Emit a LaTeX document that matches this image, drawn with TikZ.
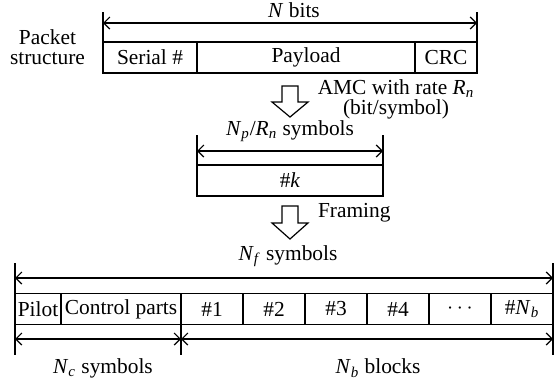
\documentclass[tikz,border=0pt]{standalone}
\usepackage{fontspec}
\setmainfont{Liberation Serif}
\usetikzlibrary{positioning,arrows.meta}

\newcommand{\vsym}[2]{\textit{#1}\textsubscript{\textit{#2}}}

\tikzset{
    cell/.style={draw, line width=0.6pt, inner sep=0pt, outer sep=0pt, minimum height=15.5pt},
    dim/.style={line width=0.6pt, {Straight Barb[length=3pt,width=6pt]}-{Straight Barb[length=3pt,width=6pt]}},
    tick/.style={line width=0.6pt},
    hollow/.style={draw, line width=0.6pt, fill=white}
}

\begin{document}
\begin{tikzpicture}[x=0.5pt, y=-0.5pt, font=\fontsize{10.7}{12.5}\selectfont]
    \useasboundingbox (0,0) rectangle (555,381);

    % Packet structure
    \node[align=center, font=\fontsize{10.7}{10}\selectfont] (pktlabel) at (47.5,47) {Packet\\structure};
    \node[cell, minimum width=47pt, anchor=west] (serial) at (103,57.5) {Serial \#};
    \node[cell, minimum width=109pt, right=0pt of serial] (payload) {Payload};
    \node[cell, minimum width=31pt, right=0pt of payload] (crc) {CRC};

    % N bits dimension
    \coordinate (ntopL) at (103,12);
    \coordinate (ntopR) at (477,12);
    \coordinate (ndimL) at (103,23);
    \coordinate (ndimR) at (477,23);
    \draw[tick] (ntopL) -- (serial.north west);
    \draw[tick] (ntopR) -- (crc.north east);
    \draw[dim] (ndimL) -- (ndimR);
    \node (nbits) at (294,10) {\textit{N} bits};

    % AMC step
    \draw[hollow] (282,86) -- (298,86) -- (298,102) -- (308,102) -- (290,117)
        -- (272,102) -- (282,102) -- cycle;
    \node[align=center, font=\fontsize{10.7}{8.8}\selectfont] (amc) at (396,99) {AMC with rate \vsym{R}{n}\\(bit/symbol)};

    % Modulated block
    \node[cell, minimum width=93pt] (pk) at (290,180.5) {\#\textit{k}};
    \coordinate (ptopL) at (197,135);
    \coordinate (ptopR) at (383,135);
    \coordinate (pdimL) at (197,151);
    \coordinate (pdimR) at (383,151);
    \draw[tick] (ptopL) -- (pk.north west);
    \draw[tick] (ptopR) -- (pk.north east);
    \draw[dim] (pdimL) -- (pdimR);
    \node (npsym) at (290,131) {\vsym{N}{p}/\vsym{R}{n} symbols};

    % Framing step
    \draw[hollow] (282,206) -- (298,206) -- (298,223) -- (308,223) -- (290,239)
        -- (272,223) -- (282,223) -- cycle;
    \node[anchor=west] (framing) at (311,213) {Framing};

    % Frame structure
    \node[cell, minimum width=23pt, anchor=west] (pilot) at (15,309) {Pilot};
    \node[cell, minimum width=60pt, right=0pt of pilot] (ctrl) {Control parts};
    \node[cell, minimum width=31pt, right=0pt of ctrl] (b1) {\#1};
    \node[cell, minimum width=31pt, right=0pt of b1] (b2) {\#2};
    \node[cell, minimum width=31pt, right=0pt of b2] (b3) {\#3};
    \node[cell, minimum width=31pt, right=0pt of b3] (b4) {\#4};
    \node[cell, minimum width=31pt, right=0pt of b4] (bdots) {$\cdots$};
    \node[cell, minimum width=31pt, right=0pt of bdots] (bn) {\#\vsym{N}{b}};

    % Frame dimensions
    \coordinate (ftopL) at (15,263);
    \coordinate (ftopR) at (553,263);
    \coordinate (fbotL) at (15,355);
    \coordinate (fbotM) at (181,355);
    \coordinate (fbotR) at (553,355);
    \draw[tick] (ftopL) -- (fbotL);
    \draw[tick] (ftopR) -- (fbotR);
    \draw[tick] (ctrl.south east) -- (fbotM);
    \coordinate (fdimL) at (15,278);
    \coordinate (fdimR) at (553,278);
    \draw[dim] (fdimL) -- (fdimR);
    \node (nfsym) at (288,256) {\vsym{N}{f} symbols};
    \coordinate (cdimL) at (15,339);
    \coordinate (cdimM) at (181,339);
    \coordinate (cdimR) at (553,339);
    \draw[dim] (cdimL) -- (cdimM);
    \draw[dim] (cdimM) -- (cdimR);
    \node (ncsym) at (103,368) {\vsym{N}{c} symbols};
    \node (nbblk) at (378,368) {\vsym{N}{b} blocks};
\end{tikzpicture}
\end{document}
